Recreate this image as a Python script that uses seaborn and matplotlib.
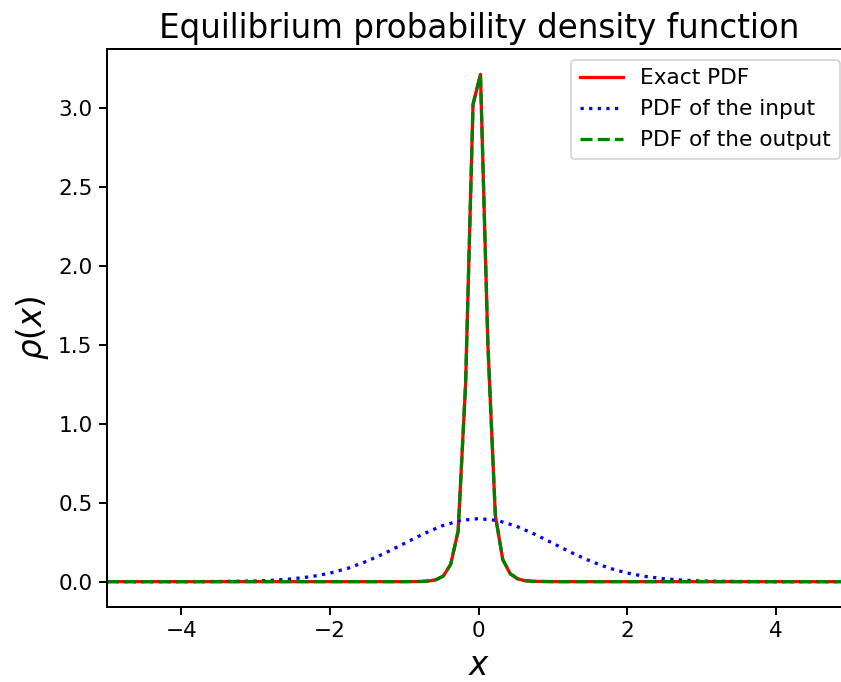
import numpy as np
import pandas as pd
import matplotlib
matplotlib.use("Agg")
import matplotlib.pyplot as plt
import seaborn as sns

x_exact = [-5.0, -1.0, -0.777, -0.677, -0.577, -0.477, -0.377, -0.277, -0.177, -0.077,
           0.023, 0.123, 0.223, 0.323, 0.423, 0.523, 0.623, 0.723, 1.0, 5.0]
y_exact = [0.0, 0.0, 0.001, 0.004, 0.012, 0.035, 0.11, 0.32, 1.25, 3.02,
           3.21, 1.50, 0.42, 0.14, 0.05, 0.018, 0.006, 0.002, 0.0, 0.0]
y_output = [0.0, 0.0, 0.001, 0.004, 0.012, 0.035, 0.11, 0.32, 1.25, 3.02,
            3.21, 1.50, 0.42, 0.14, 0.05, 0.018, 0.006, 0.002, 0.0, 0.0]

# PDF of the input (broad bell curve)
x_input = [-5.0, -4.0, -3.5, -3.0, -2.75, -2.5, -2.25, -2.0, -1.75, -1.5, -1.25, -1.0,
           -0.75, -0.5, -0.25, 0.0, 0.25, 0.5, 0.75, 1.0, 1.25, 1.5, 1.75, 2.0,
           2.25, 2.5, 2.75, 3.0, 3.5, 4.0, 5.0]
y_input = [0.0, 0.0001, 0.001, 0.004, 0.009, 0.018, 0.032, 0.054, 0.086, 0.130, 0.183, 0.242,
           0.301, 0.352, 0.387, 0.399, 0.387, 0.352, 0.301, 0.242, 0.183, 0.130, 0.086, 0.054,
           0.032, 0.018, 0.009, 0.004, 0.001, 0.0001, 0.0]

labels = ["Exact PDF", "PDF of the input", "PDF of the output"]
title = "Equilibrium probability density function"

W, H = 841, 682
DPI = 130
fig = plt.figure(figsize=(W / DPI, H / DPI), dpi=DPI)
ax = fig.add_axes([107 / W, 1 - 607 / H, (850.5 - 107) / W, (607 - 49) / H])

LW = 1.8
sns.lineplot(x=x_exact, y=y_exact, color="red", linestyle="-", linewidth=LW,
             label=labels[0], ax=ax, sort=False, estimator=None)
sns.lineplot(x=x_input, y=y_input, color="blue", linestyle=":", linewidth=LW,
             label=labels[1], ax=ax, sort=False, estimator=None)
sns.lineplot(x=x_exact, y=y_output, color="green", linestyle="--", linewidth=LW,
             label=labels[2], ax=ax, sort=False, estimator=None)

ax.set_xlim(-5, 5)
ax.set_title(title, fontsize=18)
ax.set_xlabel(r"$x$", fontsize=18)
ax.set_ylabel(r"$\rho(x)$", fontsize=18)
ax.tick_params(labelsize=12, width=1.1, length=4.5)
for s in ax.spines.values():
    s.set_linewidth(1.1)
ax.legend(loc="upper right", fontsize=12)

fig.savefig("out.png", dpi=DPI)
